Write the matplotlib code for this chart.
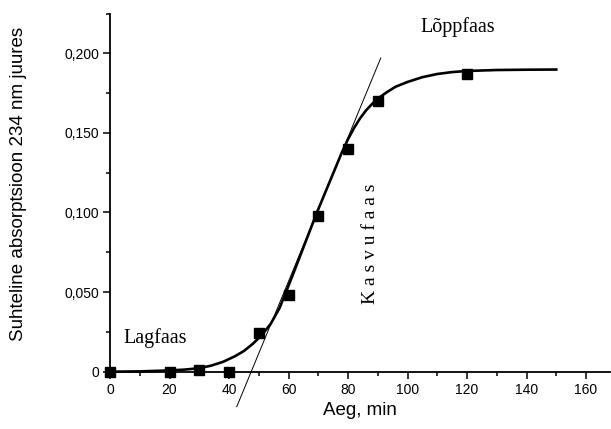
import matplotlib
matplotlib.use("Agg")
import matplotlib.pyplot as plt
from matplotlib.ticker import MultipleLocator

# Data
time_min = [0, 20, 30, 40, 50, 60, 70, 80, 90, 120]
absorbance = [0.0, 0.0, 0.001, 0.0, 0.024, 0.048, 0.098, 0.140, 0.170, 0.187]

curve_x = [0, 10, 20, 25, 30, 34, 38, 42, 45, 48, 51, 54, 57, 60, 62, 65, 68,
           70, 72, 74, 76, 78, 80, 82, 84, 86, 88, 90, 93, 96, 100, 105, 110,
           115, 120, 130, 140, 150]
curve_y = [0.0, 0.0002, 0.0008, 0.0013, 0.0022, 0.0038, 0.0062, 0.0097, 0.0130,
           0.0175, 0.0230, 0.0300, 0.0400, 0.0540, 0.0635, 0.0780, 0.0925,
           0.1020, 0.1110, 0.1200, 0.1290, 0.1380, 0.1460, 0.1530, 0.1590,
           0.1640, 0.1680, 0.1715, 0.1755, 0.1790, 0.1820, 0.1850, 0.1870,
           0.1882, 0.1889, 0.1895, 0.1897, 0.1898]

tangent_x = [42.6, 91.0]
tangent_y = [-0.022, 0.197]

xticks = [0, 20, 40, 60, 80, 100, 120, 140, 160]
yticks = [0.0, 0.05, 0.10, 0.15, 0.20]
ytick_labels = ["0", "0,050", "0,100", "0,150", "0,200"]

sans = ["Liberation Sans", "DejaVu Sans"]
serif = ["Liberation Serif", "DejaVu Serif"]

fig = plt.figure(figsize=(6.11, 4.29), dpi=100)
ax = fig.add_axes([110 / 611, 57.3 / 429, 499.8 / 611, 358.2 / 429])

ax.plot(curve_x, curve_y, color="black", lw=1.9, zorder=3, clip_on=False)
ax.plot(tangent_x, tangent_y, color="black", lw=0.7, zorder=2, clip_on=False)
ax.plot(time_min, absorbance, linestyle="none", marker="s", color="black",
        markersize=6.5, zorder=4, clip_on=False)

ax.set_xlim(0, 168)
ax.set_ylim(0, 0.225)

for s in ["top", "right"]:
    ax.spines[s].set_visible(False)
for s in ["left", "bottom"]:
    ax.spines[s].set_linewidth(1.3)

ax.set_xticks(xticks)
ax.set_xticklabels([str(v) for v in xticks], fontfamily=sans, fontsize=10)
ax.set_yticks(yticks)
ax.set_yticklabels(ytick_labels, fontfamily=sans, fontsize=10)
ax.xaxis.set_minor_locator(MultipleLocator(10))
ax.yaxis.set_minor_locator(MultipleLocator(0.025))
ax.tick_params(which="major", direction="out", length=5, width=1.1, pad=3)
ax.tick_params(which="minor", direction="out", length=3, width=1.1)

ax.set_xlabel("Aeg, min", fontfamily=sans, fontsize=13.5, labelpad=4)
fig.text(19 / 611, 1 - 184 / 429, "Suhteline absorptsioon 234 nm juures",
         rotation=90, ha="center", va="center", fontfamily=sans, fontsize=13.5)

ax.text(4.5, 0.018, "Lagfaas", fontfamily=serif, fontsize=14.5,
        ha="left", va="baseline")
ax.text(104.4, 0.2136, "Lõppfaas", fontfamily=serif, fontsize=14.5,
        ha="left", va="baseline", clip_on=False)
ax.text(87.4, 0.0803, "K a s v u f a a s", fontfamily=serif, fontsize=14,
        rotation=90, ha="center", va="center")

fig.savefig("out.png", dpi=100)
